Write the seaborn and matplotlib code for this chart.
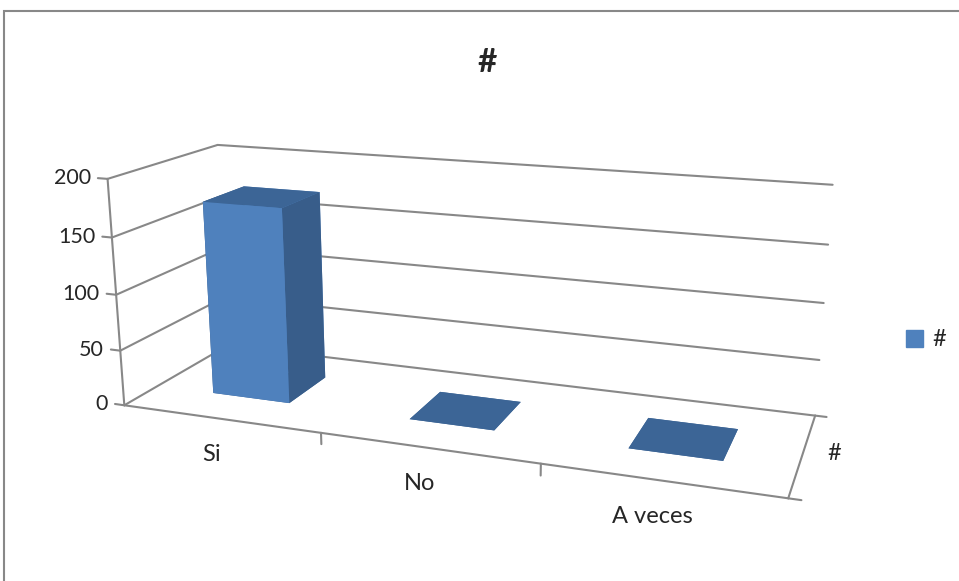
import seaborn as sns
import matplotlib.pyplot as plt
from matplotlib.patches import Patch, Rectangle
from mpl_toolkits.mplot3d import proj3d

# data
categories = ['Si', 'No', 'A veces']
values = [174, 0, 0]
series_name = '#'
value_ticks = [0, 50, 100, 150, 200]

sns.set_style('white')
plt.rcParams['font.family'] = ['Lato', 'DejaVu Sans']

front_col = '#4F81BD'
side_col = '#385D8A'
top_col = '#3C6596'
grid_col = '#888888'

fig = plt.figure(figsize=(9.59, 5.81), dpi=100)
ax = fig.add_axes([-0.017, -0.336, 0.98, 1.6], projection='3d')
ax.patch.set_visible(False)
ax.computed_zorder = False
ax.set_proj_type('persp', focal_length=0.27)
ax.view_init(elev=16, azim=-70)
n = len(categories)
ax.set_xlim(0, n)
ax.set_ylim(0, 1)
ax.set_zlim(0, value_ticks[-1])
ax.set_box_aspect((2.84, 0.9, 1.0), zoom=0.78)
ax.set_axis_off()

lk = dict(color=grid_col, lw=1.5, clip_on=False)

# gridlines on side wall and back wall
for z in value_ticks:
    ax.plot([0, 0], [0, 1], [z, z], zorder=1, **lk)
    ax.plot([0, n], [1, 1], [z, z], zorder=1, **lk)

# bars
w, d = 0.4, 0.4
xs = [i + (1 - w) / 2 for i in range(n)]
faces = [top_col, top_col, front_col, front_col, side_col, side_col]
bars = ax.bar3d(xs, [(1 - d) / 2] * n, [0] * n, [w] * n, [d] * n, values,
                color=faces * n, shade=False, zorder=2, linewidth=0)
bars.set_clip_on(False)

# axis lines
zmax = value_ticks[-1]
ax.plot([0, 0], [0, 0], [0, zmax], zorder=3, **lk)
ax.plot([0, n], [0, 0], [0, 0], zorder=3, **lk)
ax.plot([n, n], [0, 1], [0, 0], zorder=3, **lk)
for z in value_ticks:
    ax.plot([0, -0.05], [0, 0], [z, z], zorder=3, **lk)
for i in range(1, n):
    ax.plot([i, i], [0, 0], [0, -10], zorder=3, **lk)
for yy in [0, 1]:
    ax.plot([n, n + 0.05], [yy, yy], [0, 0], zorder=3, **lk)

M = ax.get_proj()


def put(x, y, z, s, dx, dy, size=17, **kw):
    px, py, _ = proj3d.proj_transform(x, y, z, M)
    ax.annotate(s, xy=(px, py), xycoords='data', xytext=(dx, dy),
                textcoords='offset pixels', fontsize=size,
                annotation_clip=False, **kw)


for v in value_ticks:
    put(-0.05, 0, v, str(v), -7, 0, size=15.5, ha='right', va='center')
for i, c in enumerate(categories):
    put(i + 0.5, 0, 0, c, -8, -36, ha='center', va='center')
put(n, 0.5, 0, series_name, 32, 0, ha='center', va='center')

fig.text(487 / 959, 1 - 62 / 581, '#', fontsize=24, fontweight='bold',
         ha='center', va='center')
fig.legend(handles=[Patch(color=front_col, label=series_name)],
           loc='center left', bbox_to_anchor=(885 / 959, 1 - 340 / 581),
           frameon=False, fontsize=17, handlelength=0.7, handleheight=0.7,
           handletextpad=0.4)
fig.patches.append(Rectangle((4 / 959, -0.1), 1.2, 1.1 - 11 / 581,
                             transform=fig.transFigure, fill=False,
                             edgecolor='#888888', lw=1.5))

fig.savefig('out.png', dpi=100)
